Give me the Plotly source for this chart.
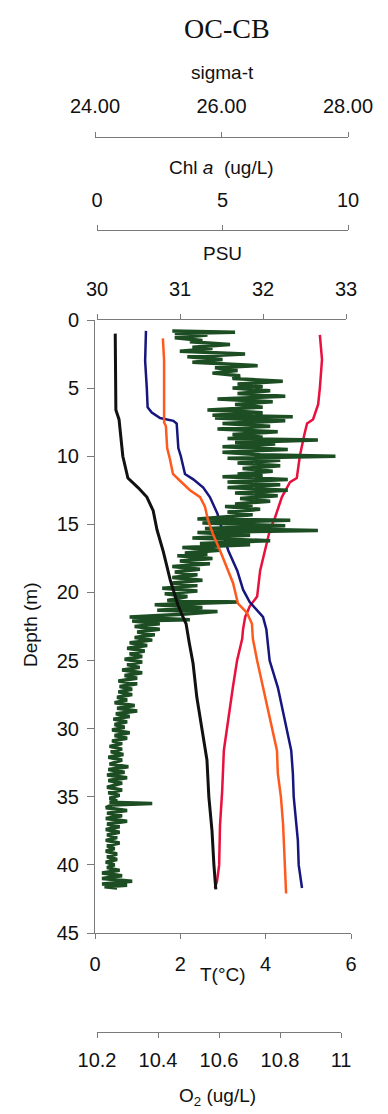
import plotly.graph_objects as go

W, H = 388, 1114

# ---------------- data ----------------
depth_ticks = [0, 5, 10, 15, 20, 25, 30, 35, 40, 45]
temp_ticks = [0, 2, 4, 6]
psu_ticks = [30, 31, 32, 33]
chl_ticks = [0, 5, 10]
sigma_ticks = [24, 26, 28]
sigma_ticktext = ["24.00", "26.00", "28.00"]
o2_ticks = [10.2, 10.4, 10.6, 10.8, 11.0]
o2_ticktext = ["10.2", "10.4", "10.6", "10.8", "11"]

sigma_depth = [1.0, 5.0, 6.6, 7.3, 10.0, 11.6, 12.3, 13.0, 14.0, 15.4, 17.0, 19.1,
               20.9, 21.8, 22.3, 23.7, 25.2, 27.7, 30.1, 32.3, 35.0, 37.5, 40.0, 41.8]
sigma_t = [24.32, 24.32, 24.33, 24.38, 24.44, 24.52, 24.68, 24.82, 24.92, 24.98, 25.08, 25.19,
           25.31, 25.39, 25.44, 25.49, 25.55, 25.61, 25.69, 25.77, 25.80, 25.85, 25.88, 25.91]

psu_depth = [0.8, 3.0, 5.0, 6.4, 6.8, 7.2, 7.4, 7.6, 9.4, 10.0, 11.3, 11.7, 12.3, 13.0, 14.2, 15.4,
             16.9, 18.4, 19.8, 20.7, 21.3, 21.8, 22.7, 25.0, 27.0, 30.0, 31.6, 33.3, 35.0, 38.2, 40.0, 41.7]
psu = [30.59, 30.58, 30.60, 30.61, 30.66, 30.76, 30.92, 30.96, 30.98, 31.01, 31.06, 31.16, 31.28, 31.36, 31.45, 31.51,
       31.58, 31.69, 31.76, 31.84, 31.93, 32.00, 32.04, 32.08, 32.18, 32.29, 32.34, 32.36, 32.37, 32.42, 32.43, 32.47]

o2_depth = [1.35, 3.0, 5.0, 7.5, 7.8, 9.4, 10.2, 11.3, 11.8, 12.5, 13.0, 13.7, 14.7, 15.7, 16.9,
            18.4, 19.3, 20.8, 21.5, 22.3, 23.4, 25.0, 27.0, 30.0, 31.6, 33.3, 35.0, 37.0, 40.0, 42.1]
o2 = [10.416, 10.420, 10.420, 10.420, 10.426, 10.430, 10.439, 10.449, 10.472, 10.505, 10.538, 10.554, 10.564, 10.580, 10.603,
      10.630, 10.646, 10.662, 10.692, 10.708, 10.711, 10.725, 10.744, 10.774, 10.790, 10.793, 10.803, 10.810, 10.816, 10.820]

temp_depth = [1.1, 2.9, 5.0, 6.2, 7.3, 7.6, 8.5, 10.0, 11.6, 11.9, 13.0, 14.5, 15.4, 16.9, 18.4,
              20.3, 21.0, 21.8, 22.7, 23.4, 25.0, 27.0, 30.0, 31.6, 34.6, 37.1, 40.0, 41.2, 41.7]
temp = [5.27, 5.32, 5.27, 5.23, 5.11, 4.97, 4.90, 4.80, 4.73, 4.57, 4.38, 4.22, 4.10, 3.98, 3.87,
        3.80, 3.63, 3.52, 3.47, 3.45, 3.33, 3.23, 3.09, 3.02, 2.98, 2.93, 2.91, 2.86, 2.81]

chl_depth = [0.8, 0.9, 1.0, 1.1, 1.3, 1.5, 1.6, 1.8, 2.0, 2.1,
             2.3, 2.5, 2.7, 2.9, 3.1, 3.2, 3.35, 3.5, 3.7, 3.9,
             4.1, 4.3, 4.5, 4.7, 4.9, 5.0, 5.2, 5.4, 5.6, 5.8,
             6.0, 6.2, 6.4, 6.6, 6.8, 7.0, 7.1, 7.2, 7.4, 7.6,
             7.8, 8.0, 8.2, 8.4, 8.6, 8.7, 8.8, 9.0, 9.1, 9.3,
             9.5, 9.7, 9.9, 10.0, 10.15, 10.3, 10.5, 10.7, 10.9, 11.1,
             11.3, 11.4, 11.5, 11.7, 11.9, 12.1, 12.3, 12.5, 12.7, 12.9,
             13.1, 13.3, 13.5, 13.6, 13.7, 13.9, 14.1, 14.3, 14.6, 14.7,
             14.9, 15.1, 15.3, 15.45, 15.6, 15.8, 16.0, 16.2, 16.4, 16.5,
             16.7, 16.9, 17.1, 17.2, 17.3, 17.5, 17.7, 17.9, 18.1, 18.3,
             18.5, 18.7, 18.9, 19.1, 19.3, 19.5, 19.7, 19.9, 20.1, 20.3,
             20.6, 20.7, 20.9, 21.1, 21.3, 21.4, 21.6, 21.8, 22.0, 22.1,
             22.3, 22.5, 22.7, 22.9, 23.1, 23.3, 23.5, 23.7, 23.9, 24.1,
             24.3, 24.5, 24.7, 24.9, 25.1, 25.3, 25.5, 25.7, 25.9, 26.1,
             26.3, 26.5, 26.7, 26.9, 27.1, 27.3, 27.5, 27.7, 27.9, 28.1,
             28.3, 28.5, 28.7, 28.9, 29.1, 29.3, 29.5, 29.7, 29.9, 30.1,
             30.3, 30.5, 30.7, 30.9, 31.1, 31.3, 31.5, 31.7, 31.9, 32.1,
             32.3, 32.6, 32.8, 33.0, 33.2, 33.4, 33.6, 33.8, 34.0, 34.3,
             34.5, 34.7, 34.9, 35.1, 35.3, 35.4, 35.5, 35.6, 35.8, 36.0,
             36.2, 36.4, 36.6, 36.8, 37.0, 37.2, 37.4, 37.6, 37.8, 38.0,
             38.2, 38.4, 38.6, 38.8, 39.0, 39.2, 39.4, 39.6, 39.8, 40.0,
             40.2, 40.4, 40.6, 40.8, 41.0, 41.2, 41.4, 41.5, 41.6, 41.7]
chl_a = [3.0, 5.5, 3.1, 4.4, 3.1, 4.2, 3.7, 5.3, 3.8, 4.6,
         3.3, 5.9, 3.6, 5.0, 3.8, 5.0, 6.4, 4.7, 5.6, 4.6,
         5.7, 5.4, 7.4, 5.6, 6.6, 5.4, 6.9, 5.6, 7.5, 4.8,
         7.0, 5.5, 6.6, 4.4, 6.6, 4.6, 7.8, 4.7, 7.5, 5.0,
         6.9, 4.8, 7.2, 5.4, 6.6, 5.2, 8.8, 5.5, 7.1, 5.0,
         7.6, 5.0, 6.5, 9.5, 5.2, 7.3, 5.6, 7.3, 5.8, 7.0,
         5.6, 6.6, 5.0, 7.6, 5.2, 7.3, 5.2, 7.6, 5.5, 7.2,
         5.7, 6.9, 5.5, 6.2, 5.1, 6.5, 5.2, 6.2, 4.0, 7.7,
         4.2, 7.5, 4.3, 8.8, 4.0, 6.1, 3.8, 6.9, 4.1, 6.1,
         3.4, 4.9, 3.5, 4.4, 3.2, 4.6, 3.3, 4.5, 3.0, 4.1,
         3.1, 4.0, 3.0, 4.2, 3.0, 4.0, 2.6, 4.0, 2.7, 3.6,
         2.8, 5.6, 2.3, 4.2, 2.4, 4.8, 3.4, 1.3, 3.7, 1.4,
         2.5, 1.5, 2.5, 1.6, 2.3, 1.5, 2.2, 1.3, 2.0, 1.2,
         1.9, 1.3, 1.8, 1.1, 1.8, 1.2, 1.7, 1.0, 1.8, 1.1,
         1.6, 0.85, 1.6, 0.9, 1.4, 0.85, 1.4, 0.8, 1.2, 0.7,
         1.5, 0.8, 1.6, 0.75, 1.3, 0.65, 1.2, 0.7, 1.1, 0.6,
         1.3, 0.7, 1.2, 0.6, 1.0, 0.5, 1.0, 0.55, 1.05, 0.45,
         1.0, 0.5, 1.25, 0.45, 1.1, 0.4, 1.2, 0.45, 1.0, 0.4,
         1.0, 0.45, 0.9, 0.5, 0.8, 0.5, 2.2, 0.6, 0.35, 1.2,
         0.4, 1.0, 0.35, 1.2, 0.4, 0.9, 0.35, 0.9, 0.4, 0.8,
         0.35, 0.9, 0.4, 0.7, 0.35, 0.8, 0.4, 0.8, 0.35, 0.7,
         0.4, 0.9, 0.2, 1.0, 0.2, 1.4, 0.2, 1.2, 0.3, 0.8]

# ---------------- helpers ----------------
def fx(p):
    return p / W

def fy(p):
    return (H - p) / H

FONT = "Liberation Sans, Arial, sans-serif"
AXC = "#7a7a7a"
TXT = "#111111"
TICKF = dict(family=FONT, size=20, color=TXT)

fig = go.Figure()
fig.add_trace(go.Scatter(x=chl_a, y=chl_depth, xaxis="x3", yaxis="y", mode="lines",
                         line=dict(color="#1d4d23", width=3.5), name="Chl a"))
fig.add_trace(go.Scatter(x=sigma_t, y=sigma_depth, xaxis="x4", yaxis="y", mode="lines",
                         line=dict(color="#111111", width=3), name="sigma-t"))
fig.add_trace(go.Scatter(x=psu, y=psu_depth, xaxis="x2", yaxis="y", mode="lines",
                         line=dict(color="#16167e", width=2.5), name="PSU"))
fig.add_trace(go.Scatter(x=o2, y=o2_depth, xaxis="x5", yaxis="y", mode="lines",
                         line=dict(color="#ff5a1e", width=2.5), name="O2"))
fig.add_trace(go.Scatter(x=temp, y=temp_depth, xaxis="x", yaxis="y", mode="lines",
                         line=dict(color="#e8103c", width=2.5), name="T"))

common = dict(showgrid=False, zeroline=False, showline=True, linecolor=AXC, linewidth=1,
              ticks="outside", ticklen=5, tickwidth=1, tickcolor=AXC, tickfont=TICKF,
              fixedrange=True, automargin=False)

fig.update_layout(
    template="none",
    width=W, height=H, autosize=False,
    margin=dict(l=0, r=0, t=0, b=0, pad=0),
    paper_bgcolor="white", plot_bgcolor="rgba(0,0,0,0)",
    showlegend=False,
    xaxis=dict(domain=[fx(95), fx(351)], range=[0, 6], tickvals=temp_ticks,
               anchor="y", side="bottom", ticklabelstandoff=8, **common),
    xaxis2=dict(domain=[fx(97), fx(346)], range=[30, 33], tickvals=psu_ticks,
                anchor="y", side="top", ticklabelstandoff=10, **common),
    xaxis3=dict(domain=[fx(97), fx(348)], range=[0, 10], tickvals=chl_ticks,
                anchor="free", position=fy(230), side="top", ticklabelstandoff=10, **common),
    xaxis4=dict(domain=[fx(95), fx(348)], range=[24, 28], tickvals=sigma_ticks,
                ticktext=sigma_ticktext, anchor="free", position=fy(137), side="top",
                ticklabelstandoff=11, **common),
    xaxis5=dict(domain=[fx(97), fx(341)], range=[10.2, 11.0], tickvals=o2_ticks,
                ticktext=o2_ticktext, anchor="free", position=fy(1032), side="bottom",
                ticklabelstandoff=5, **common),
    yaxis=dict(domain=[fy(933), fy(320)], range=[45, 0], tickvals=depth_ticks,
               anchor="x", side="left", ticklabelstandoff=4,
               **{**common, "ticklen": 7}),
)

def ann(text, x, y, size=19, angle=0, family=FONT):
    fig.add_annotation(text=text, x=fx(x), y=fy(y), xref="paper", yref="paper",
                       showarrow=False, xanchor="center", yanchor="middle",
                       textangle=angle, font=dict(family=family, size=size, color=TXT))

ann("OC-CB", 227, 29, size=28, family="Liberation Serif, Times New Roman, serif")
ann("sigma-t", 222, 73)
ann("Chl <i>a</i>  (ug/L)", 221, 167)
ann("PSU", 222, 253)
ann("T(°C)", 223, 974)
ann("O<sub>2</sub> (ug/L)", 217, 1097)
ann("Depth (m)", 30, 625, angle=-90)

fig.write_html("out.html")
